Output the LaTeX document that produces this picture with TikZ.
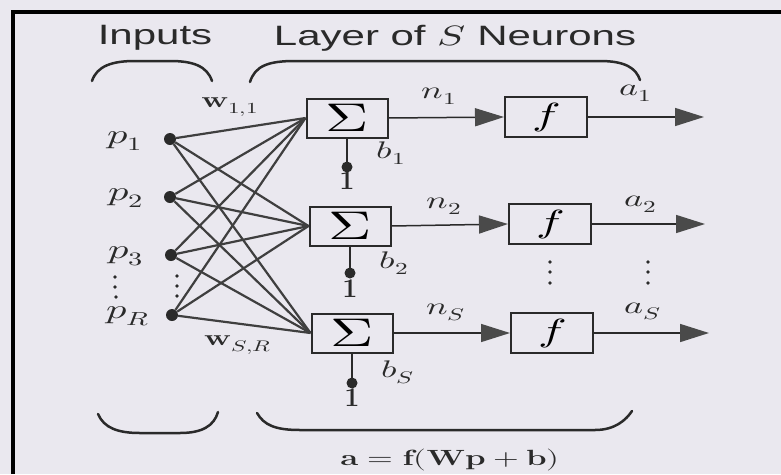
\documentclass[tikz,border=0pt]{standalone}
\usepackage{fontspec}
\usepackage{unicode-math}
\setmathfont{Latin Modern Math}
\setsansfont{Liberation Sans}
\usepackage{graphicx}
\usetikzlibrary{arrows.meta}
\newcommand\hs[1]{\scalebox{1.5}[1]{#1}}
\definecolor{bg}{HTML}{EAE8EF}
\definecolor{ink}{HTML}{2A2A2A}
\definecolor{head}{HTML}{4A4A4A}
\tikzset{
  sumbox/.style={draw=ink, line width=2pt, minimum width=81pt, minimum height=39pt, inner sep=0pt},
  actbox/.style={draw=ink, line width=2pt, minimum width=82pt, minimum height=40pt, inner sep=0pt},
  wire/.style={draw=ink!90, line width=2.2pt},
  sig/.style={draw=ink, line width=1.5pt, -{Triangle[length=29pt,width=18pt,color=head]}},
  brace/.style={draw=ink, line width=2.5pt, line cap=round},
  indot/.style={circle, fill=ink, inner sep=0pt, minimum size=12pt},
  biasdot/.style={circle, fill=ink, inner sep=0pt, minimum size=11pt},
  biasline/.style={draw=ink, line width=2.6pt},
  smalldot/.style={circle, fill=ink, inner sep=0pt, minimum size=3.6pt},
  lab/.style={inner sep=0pt, text=ink},
}
\begin{document}
\begin{tikzpicture}[x=1pt,y=-1pt]
\fill[bg] (0,0) rectangle (781,474);
\useasboundingbox (0,0) rectangle (781,474);
\draw[black, line width=4pt] (13,474) -- (13,12) -- (781,12);

% titles
\node[lab] (tin) at (155,38) {\hs{\fontsize{28}{30}\selectfont\sffamily Inputs}};
\node[lab] (tlay) at (455,38) {\hs{\fontsize{28}{30}\selectfont\sffamily Layer of $S$ Neurons}};

% braces
\draw[brace] (92,81) .. controls (97,66) and (112,61) .. (135,61) -- (170,61) .. controls (193,61) and (207,66) .. (212,81);
\draw[brace] (250,82) .. controls (255,66) and (268,61) .. (295,61) -- (600,61) .. controls (625,61) and (636,68) .. (640,80);
\draw[brace] (98,414) .. controls (104,428) and (118,433) .. (140,433) -- (180,433) .. controls (202,433) and (214,426) .. (218,412);
\draw[brace] (257,413) .. controls (264,425) and (275,430) .. (300,430) -- (595,430) .. controls (615,430) and (626,420) .. (632,411);

% boxes
\node[sumbox] (s1) at (347,118) {\hs{\fontsize{40}{42}\selectfont$\Sigma$}};
\node[sumbox] (s2) at (350,226) {\hs{\fontsize{40}{42}\selectfont$\Sigma$}};
\node[sumbox] (s3) at (352,333) {\hs{\fontsize{40}{42}\selectfont$\Sigma$}};
\node[actbox] (f1) at (546,117) {\hs{\fontsize{32}{34}\selectfont$f$}};
\node[actbox] (f2) at (550,224) {\hs{\fontsize{32}{34}\selectfont$f$}};
\node[actbox] (f3) at (552,333) {\hs{\fontsize{32}{34}\selectfont$f$}};

% input dots
\node[indot] (p1) at (170,139) {};
\node[indot] (p2) at (170,197) {};
\node[indot] (p3) at (171,255) {};
\node[indot] (pR) at (172,315) {};

% input wires
\foreach \i in {p1,p2,p3,pR}{
  \foreach \j in {s1,s2,s3}{
    \draw[wire] (\i) -- (\j.west);
  }
}

% input labels
\node[lab] (lp1) at (125,141) {\hs{\fontsize{27}{29}\selectfont$p_1$}};
\node[lab] (lp2) at (126,198) {\hs{\fontsize{27}{29}\selectfont$p_2$}};
\node[lab] (lp3) at (126,256) {\hs{\fontsize{27}{29}\selectfont$p_3$}};
\node[lab] (lpR) at (128,316) {\hs{\fontsize{27}{29}\selectfont$p_R$}};

% vertical dots
\node[smalldot] (vl1) at (115,277) {};
\node[smalldot] (vl2) at (115,287) {};
\node[smalldot] (vl3) at (116,297) {};
\node[smalldot] (vr1) at (177,276) {};
\node[smalldot] (vr2) at (177,286) {};
\node[smalldot] (vr3) at (177,296) {};
\node[smalldot] (vf1) at (550,262) {};
\node[smalldot] (vf2) at (550,272) {};
\node[smalldot] (vf3) at (550,283) {};
\node[smalldot] (va1) at (648,262) {};
\node[smalldot] (va2) at (648,272) {};
\node[smalldot] (va3) at (648,283) {};

% weight labels
\node[lab] (w11) at (230,107) {\hs{\fontsize{22}{24}\selectfont$\mathbf{w}_{1,1}$}};
\node[lab] (wSR) at (238,345) {\hs{\fontsize{22}{24}\selectfont$\mathbf{w}_{S,R}$}};

% bias
\node[biasdot] (d1) at (347,167) {};
\node[biasdot] (d2) at (350,273) {};
\node[biasdot] (d3) at (352,383) {};
\draw[biasline] (s1.south) -- (d1.center);
\draw[biasline] (s2.south) -- (d2.center);
\draw[biasline] (s3.south) -- (d3.center);
\node[lab, anchor=south] (one1) at (347,190) {\fontsize{27}{27}\selectfont\bfseries 1};
\node[lab, anchor=south] (one2) at (350,298) {\fontsize{27}{27}\selectfont\bfseries 1};
\node[lab, anchor=south] (one3) at (352,407) {\fontsize{27}{27}\selectfont\bfseries 1};
\node[lab] (b1) at (391,153) {\hs{\fontsize{24}{26}\selectfont$b_1$}};
\node[lab] (b2) at (394,263) {\hs{\fontsize{24}{26}\selectfont$b_2$}};
\node[lab] (bS) at (398,372) {\hs{\fontsize{24}{26}\selectfont$b_S$}};

% net inputs
\draw[sig] (s1.east) -- (f1.west);
\draw[sig] (s2.east) -- (f2.west);
\draw[sig] (s3.east) -- (f3.west);
\node[lab] (n1) at (439,96) {\hs{\fontsize{24}{26}\selectfont$n_1$}};
\node[lab] (n2) at (444,206) {\hs{\fontsize{24}{26}\selectfont$n_2$}};
\node[lab] (nS) at (446,312) {\hs{\fontsize{24}{26}\selectfont$n_S$}};

% outputs
\coordinate (o1) at (704,117);
\coordinate (o2) at (705,224);
\coordinate (o3) at (709,333);
\draw[sig] (f1.east) -- (o1);
\draw[sig] (f2.east) -- (o2);
\draw[sig] (f3.east) -- (o3);
\node[lab] (a1) at (636,93) {\hs{\fontsize{24}{26}\selectfont$a_1$}};
\node[lab] (a2) at (641,204) {\hs{\fontsize{24}{26}\selectfont$a_2$}};
\node[lab] (aS) at (643,311) {\hs{\fontsize{24}{26}\selectfont$a_S$}};

% formula
\node[lab] (eq) at (450,460) {\hs{\fontsize{22}{24}\selectfont$\mathbf{a}=\mathbf{f}(\mathbf{Wp}+\mathbf{b})$}};
\end{tikzpicture}
\end{document}
